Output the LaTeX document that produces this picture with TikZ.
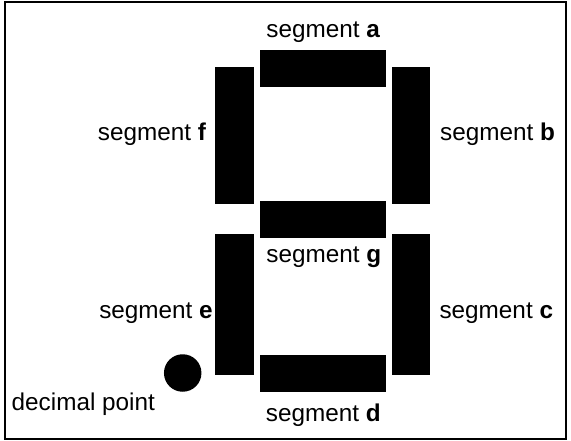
\documentclass[tikz,border=0pt]{standalone}
\usepackage{fontspec}
\setmainfont{Liberation Sans}
\begin{document}
\begin{tikzpicture}[x=1pt,y=-1pt,
  seg/.style={fill=black,draw=none,inner sep=0pt,outer sep=0pt},
  lbl/.style={anchor=base,inner sep=0pt,font=\fontsize{24.3}{28}\selectfont}]
\useasboundingbox (0,0) rectangle (571,441);
\draw[line width=2pt] (5,2) rectangle (566,439);
% segments
\path[seg] (260,50) rectangle (386,87);
\path[seg] (214.5,67) rectangle (254,204);
\path[seg] (392,67) rectangle (429.5,204);
\path[seg] (260,201) rectangle (386,238);
\path[seg] (214.5,234.5) rectangle (254,374.5);
\path[seg] (392,234.5) rectangle (429.5,374.5);
\path[seg] (260,354.5) rectangle (386,391.5);
\node[seg,circle,minimum size=37.5pt] (dp) at (182.7,373) {};
% labels
\node[lbl] (la) at (323.3,37.5) {segment \textbf{a}};
\node[lbl] (lf) at (152,140.5) {segment \textbf{f}};
\node[lbl] (lb) at (497.5,140.5) {segment \textbf{b}};
\node[lbl] (lg) at (323.8,262.5) {segment \textbf{g}};
\node[lbl] (le) at (156,318.5) {segment \textbf{e}};
\node[lbl] (lc) at (496.3,318.5) {segment \textbf{c}};
\node[lbl] (ld) at (323.3,421) {segment \textbf{d}};
\node[lbl] (ldp) at (83.3,410) {decimal point};
\end{tikzpicture}
\end{document}
